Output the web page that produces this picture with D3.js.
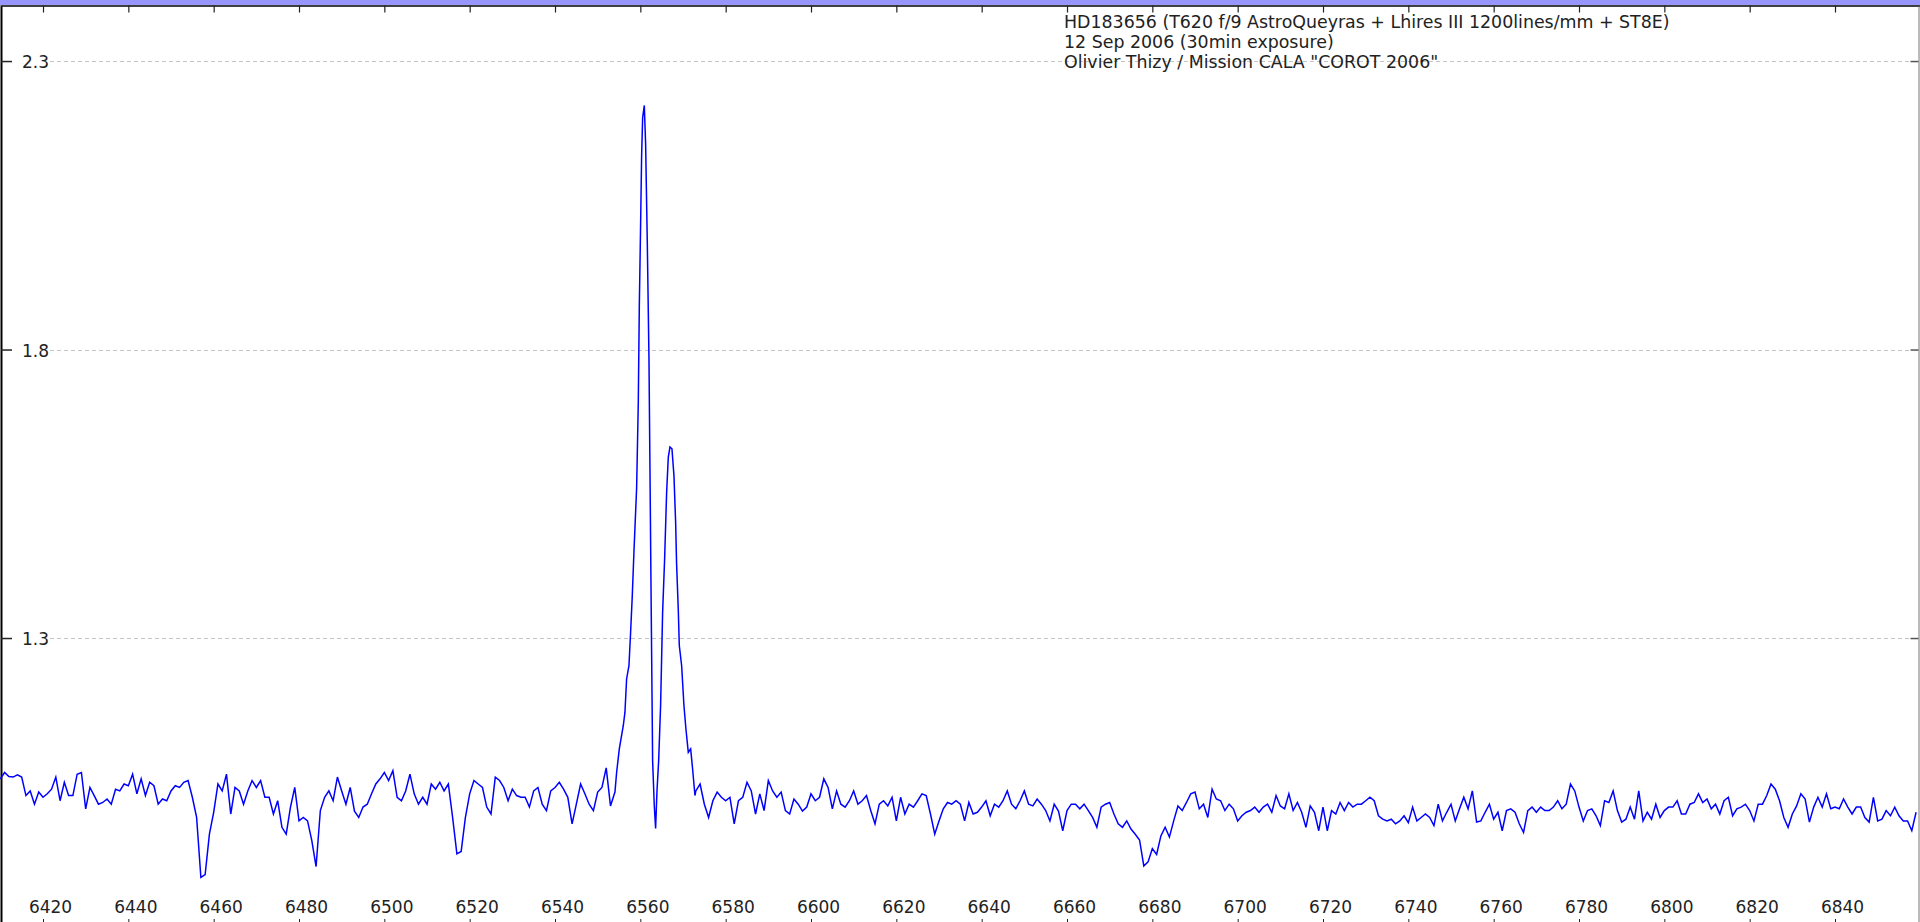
<!DOCTYPE html>
<html>
<head>
<meta charset="utf-8">
<script src="https://cdn.jsdelivr.net/npm/d3@7"></script>
<style>
	body { margin: 0; background: #fff; overflow: hidden; }
	svg text { font-family: "DejaVu Sans", Verdana, sans-serif; font-size: 17px; fill: #222; }
</style>
</head>
<body>
<div id="chart"></div>
<script>
// ---------- DATA ----------
// blue wing, 1 A steps from 6410 A
const blueStart = 6410;
const fluxBlue = [
	1.056, 1.067, 1.060, 1.059, 1.063, 1.059, 1.027, 1.035, 1.012, 1.033,
	1.024, 1.030, 1.038, 1.059, 1.018, 1.050, 1.027, 1.027, 1.064, 1.067,
	1.004, 1.041, 1.027, 1.012, 1.015, 1.021, 1.012, 1.038, 1.035, 1.047,
	1.044, 1.064, 1.030, 1.056, 1.027, 1.050, 1.044, 1.012, 1.021, 1.018,
	1.035, 1.044, 1.041, 1.050, 1.053, 1.024, 0.989, 0.885, 0.890, 0.960,
	0.998, 1.047, 1.035, 1.064, 0.995, 1.041, 1.035, 1.012, 1.035, 1.053,
	1.041, 1.053, 1.024, 1.024, 0.995, 1.018, 0.972, 0.960, 1.007, 1.041,
	0.983, 0.989, 0.983, 0.949, 0.904, 1.001, 1.024, 1.035, 1.018, 1.059,
	1.035, 1.012, 1.041, 1.000, 0.989, 1.007, 1.012, 1.030, 1.047, 1.056,
	1.067, 1.053, 1.070, 1.024, 1.018, 1.035, 1.064, 1.030, 1.012, 1.024,
	1.012, 1.047, 1.038, 1.050, 1.035, 1.047, 0.989, 0.926, 0.930, 0.989,
	1.030, 1.053, 1.047,
	1.041, 1.007, 0.995, 1.059, 1.053, 1.041, 1.018, 1.038, 1.027, 1.024,
	1.024, 1.007, 1.035, 1.041, 1.012, 1.001, 1.035, 1.041, 1.050, 1.038,
	1.024, 0.978, 1.012, 1.047, 1.030, 1.012, 1.001, 1.033, 1.041, 1.075,
	1.009
];

// H-alpha double peak, finer sampling
const coreWave = [
	6554.05, 6554.44, 6555.07, 6556.00, 6556.39, 6556.78, 6557.33, 6557.72, 6558.11, 6558.50,
	6559.13, 6559.52, 6559.76, 6560.07, 6560.30, 6560.54, 6560.93, 6561.24, 6561.63, 6562.02,
	6562.26, 6562.49, 6562.88, 6563.27, 6563.58, 6563.89, 6564.29, 6564.75, 6565.22, 6565.69,
	6566.16, 6566.55, 6566.94, 6567.41, 6567.88, 6568.27, 6568.50, 6568.89, 6569.13, 6569.68,
	6570.22, 6570.69, 6571.24, 6571.79, 6572.25, 6572.80
];
const coreFlux = [
	1.033, 1.067, 1.108, 1.148, 1.171, 1.229, 1.252, 1.310, 1.373, 1.449,
	1.560, 1.708, 1.876, 2.020, 2.136, 2.202, 2.223, 2.156, 1.986, 1.786,
	1.590, 1.396, 1.087, 1.009, 0.970, 1.033, 1.087, 1.183, 1.344, 1.437,
	1.552, 1.613, 1.631, 1.628, 1.581, 1.501, 1.428, 1.350, 1.287, 1.252,
	1.183, 1.142, 1.102, 1.108, 1.073, 1.027
];

// red wing, 1 A steps from 6573 A
const redStart = 6573;
const fluxRed = [
	1.035, 1.047, 1.012, 0.989, 1.018, 1.033, 1.024, 1.018, 1.024, 0.978,
	1.018, 1.024, 1.050, 1.035, 0.995, 1.030, 1.001, 1.053, 1.035, 1.024,
	1.033, 1.001, 0.995, 1.021, 1.012, 1.000, 1.007, 1.030, 1.018, 1.024,
	1.056, 1.041, 1.004, 1.035, 1.012, 1.007, 1.018, 1.035, 1.012, 1.018,
	1.027, 1.001, 0.978, 1.012, 1.018, 1.009, 1.024, 0.983, 1.024, 0.995,
	1.012, 1.007, 1.018, 1.030, 1.027, 0.995, 0.960, 0.983, 1.004, 1.015,
	1.012, 1.018,
	1.012, 0.983, 1.015, 0.995, 0.998, 1.007, 1.018, 0.992, 1.012, 1.007,
	1.018, 1.035, 1.012, 1.004, 1.018, 1.035, 1.012, 1.009, 1.021, 1.012,
	1.001, 0.983, 1.012, 1.000, 0.966, 1.001, 1.012, 1.012, 1.004, 1.012,
	1.001, 0.989, 0.972, 1.007, 1.012, 1.015, 0.995, 0.978, 0.972, 0.983,
	0.969, 0.960, 0.950, 0.905, 0.912, 0.935, 0.925, 0.957, 0.972, 0.955,
	0.983, 1.009, 1.001, 1.015, 1.030, 1.033, 1.004, 1.012, 0.989, 1.038,
	1.021, 1.018, 1.001, 1.012, 1.004, 0.983, 0.992, 0.998, 1.001, 1.007,
	0.998, 1.007, 1.012, 0.998, 1.027, 1.009, 1.004, 1.030, 1.001, 1.015,
	0.998, 0.972, 1.009, 0.998, 0.966, 1.007, 0.966, 1.001, 0.995, 1.015,
	1.001, 1.015, 1.007, 1.012, 1.012, 1.018, 1.024, 1.018, 0.992, 0.986,
	0.983, 0.986, 0.978, 0.983, 0.992, 0.980, 1.007, 0.983, 0.989, 0.995,
	0.989, 0.975, 1.012,
	0.983, 0.998, 1.012, 0.983, 1.004, 1.024, 1.004, 1.035, 0.981, 0.983,
	0.998, 1.012, 0.986, 0.998, 0.966, 1.001, 1.004, 0.998, 0.978, 0.963,
	1.001, 1.007, 0.998, 1.007, 1.001, 1.001, 1.007, 1.018, 1.004, 1.012,
	1.047, 1.035, 1.007, 0.983, 1.001, 1.004, 0.992, 0.975, 1.018, 1.015,
	1.035, 1.001, 0.981, 0.986, 1.007, 0.986, 1.035, 0.983, 0.998, 0.986,
	1.012, 0.989, 1.001, 1.007, 1.007, 1.018, 0.995, 0.995, 1.012, 1.015,
	1.030, 1.015, 1.021, 1.004, 1.012, 0.995, 1.018, 1.024, 0.992, 1.004,
	1.007, 1.012, 1.001, 0.983, 1.012, 1.012, 1.027, 1.047, 1.038, 1.018,
	0.989, 0.972, 0.995, 1.009, 1.030, 1.021, 0.981, 1.007, 1.024, 1.007,
	1.030, 1.004, 1.007, 1.004, 1.021, 1.007, 0.995, 1.007, 1.007, 0.989,
	0.981, 1.024, 0.983, 0.986, 1.001, 0.992, 1.007, 0.992, 0.983, 0.983,
	0.966, 0.998
];

const xTickValues = [6420, 6440, 6460, 6480, 6500, 6520, 6540, 6560, 6580, 6600, 6620,
	6640, 6660, 6680, 6700, 6720, 6740, 6760, 6780, 6800, 6820, 6840];
const yTickValues = [1.3, 1.8, 2.3];
const titleLines = [
	"HD183656 (T620 f/9 AstroQueyras + Lhires III 1200lines/mm + ST8E)",
	"12 Sep 2006 (30min exposure)",
	"Olivier Thizy / Mission CALA \"COROT 2006\""
];

// ---------- CHART ----------
const width = 1920;
const height = 922;
const plotTop = 5;
const plotBottom = 926;

const points = [];
fluxBlue.forEach((f, i) => points.push({ w: blueStart + i, f: f }));
coreWave.forEach((w, i) => points.push({ w: w, f: coreFlux[i] }));
fluxRed.forEach((f, i) => points.push({ w: redStart + i, f: f }));

const svg = d3
	.select("#chart")
	.append("svg")
	.attr("width", width)
	.attr("height", height);

const x = d3.scaleLinear().domain([6409.92, 6859.92]).range([0, width]);
const y = d3.scaleLinear().domain([0.8009, 2.3954]).range([plotBottom, plotTop + 1]);

// title bar
svg.append("rect")
	.attr("x", 0).attr("y", 0)
	.attr("width", width).attr("height", plotTop)
	.attr("fill", "#9797fb");

// gridlines
svg.append("g")
	.selectAll("line")
	.data(yTickValues)
	.enter()
	.append("line")
	.attr("x1", 50)
	.attr("x2", 1911)
	.attr("y1", (d) => Math.round(y(d)) + 0.5)
	.attr("y2", (d) => Math.round(y(d)) + 0.5)
	.attr("stroke", "#c4c4c4")
	.attr("stroke-dasharray", "4,3");

// top axis (ticks only)
const topAxis = svg.append("g")
	.attr("transform", `translate(0,${plotTop + 0.5})`)
	.call(d3.axisBottom(x).tickValues(xTickValues).tickSize(7).tickSizeOuter(0).tickFormat(""));
topAxis.select(".domain").attr("stroke", "#000").attr("stroke-width", 1.5);
topAxis.selectAll(".tick line").attr("stroke", "#222").attr("stroke-width", 1.2);

// bottom axis, labels sit inside the plot
const bottomAxis = svg.append("g")
	.attr("transform", `translate(0,${plotBottom})`)
	.call(d3.axisTop(x).tickValues(xTickValues).tickSize(7).tickSizeOuter(0).tickPadding(6).tickFormat(d3.format("d")));
bottomAxis.selectAll("text").attr("dx", 7).attr("fill", "#222").style("font-size", "17px");
bottomAxis.selectAll(".tick line").attr("stroke", "#222");

// left axis
const leftAxis = svg.append("g")
	.attr("transform", "translate(1,0)")
	.call(d3.axisRight(y).tickValues(yTickValues).tickSize(11).tickSizeOuter(0).tickPadding(10).tickFormat(d3.format(".1f")));
leftAxis.select(".domain").attr("stroke", "#000").attr("stroke-width", 2);
leftAxis.selectAll("text").attr("fill", "#222").attr("dy", "0.4em").style("font-size", "17px");
leftAxis.selectAll(".tick line").attr("stroke", "#222").attr("stroke-width", 1.5);

// right axis
const rightAxis = svg.append("g")
	.attr("transform", "translate(1918.5,0)")
	.call(d3.axisLeft(y).tickValues(yTickValues).tickSize(8).tickSizeOuter(0).tickFormat(""));
rightAxis.select(".domain").attr("stroke", "#777");
rightAxis.selectAll(".tick line").attr("stroke", "#555").attr("stroke-width", 1.5);

// spectrum
const line = d3.line()
	.x((d) => x(d.w))
	.y((d) => y(d.f));

svg.append("path")
	.datum(points)
	.attr("fill", "none")
	.attr("stroke", "#0000ff")
	.attr("stroke-width", 1.5)
	.attr("d", line);

// caption
svg.append("g")
	.selectAll("text")
	.data(titleLines)
	.enter()
	.append("text")
	.attr("x", 1064)
	.attr("y", (d, i) => 22 + i * 20)
	.attr("dy", "0.36em")
	.style("font-size", "17.4px")
	.text((d) => d);
</script>
</body>
</html>
